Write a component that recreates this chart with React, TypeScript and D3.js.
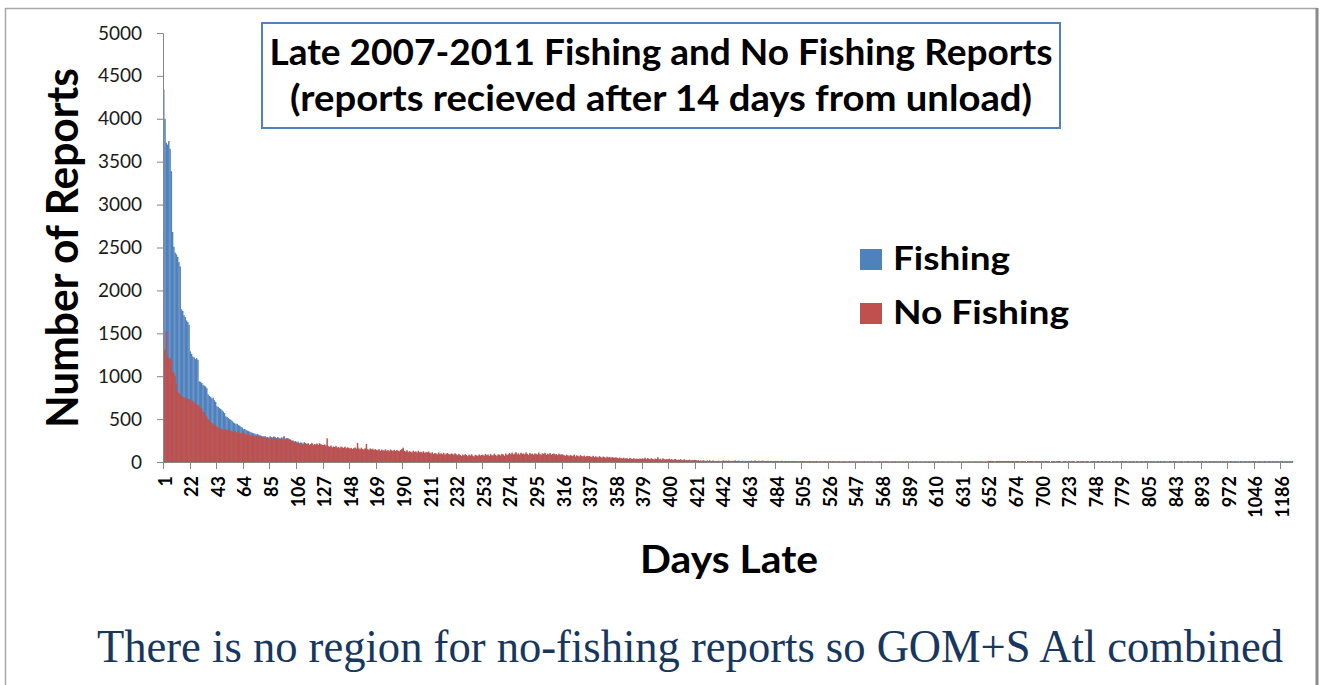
import React, { useRef, useEffect } from "react";
import * as d3 from "d3";

const WIDTH = 1324;
const HEIGHT = 685;

// days 1..651 run one after the other, later on only the days that had reports show up
const denseDays = d3.range(1, 652);
const tailDayRows = [
  [652, 653, 654, 655, 656, 657, 658, 659, 660, 661, 662, 663, 664, 665, 667, 668, 669, 670, 671, 672, 673],
  [674, 675, 676, 678, 679, 680, 681, 683, 684, 685, 686, 688, 689, 690, 691, 693, 694, 695, 696, 697, 698],
  [700, 701, 702, 703, 704, 705, 706, 708, 709, 710, 711, 712, 713, 714, 715, 717, 718, 719, 720, 721, 722],
  [723, 724, 725, 726, 728, 729, 730, 731, 733, 734, 735, 736, 738, 739, 740, 741, 743, 744, 745, 746, 747],
  [748, 749, 751, 752, 754, 755, 756, 758, 759, 761, 762, 764, 765, 767, 768, 770, 771, 773, 774, 776, 777],
  [779, 780, 781, 783, 784, 785, 786, 788, 789, 790, 791, 793, 794, 795, 796, 798, 799, 800, 801, 802, 803],
  [805, 806, 808, 810, 811, 813, 815, 817, 818, 820, 822, 824, 825, 827, 829, 831, 832, 834, 836, 838, 840],
  [843, 845, 847, 850, 852, 854, 857, 859, 861, 864, 866, 868, 871, 873, 875, 878, 880, 882, 885, 887, 890],
  [893, 897, 900, 904, 908, 911, 915, 919, 922, 926, 930, 934, 937, 941, 945, 949, 952, 956, 960, 964, 968],
  [972, 975, 979, 983, 986, 990, 993, 997, 1001, 1004, 1008, 1012, 1015, 1019, 1022, 1026, 1030, 1033, 1037, 1040, 1043],
  [1046, 1052, 1059, 1065, 1072, 1079, 1085, 1092, 1099, 1105, 1112, 1119, 1125, 1132, 1139, 1145, 1152, 1159, 1165, 1172, 1179],
  [1186, 1194, 1210, 1232, 1251, 1274, 1298, 1326, 1361, 1402],
];
const days = [...denseDays, ...tailDayRows.flat()];

const tickLabels = [
  "1", "22", "43", "64", "85", "106", "127", "148", "169", "190", "211", "232", "253", "274", "295",
  "316", "337", "358", "379", "400", "421", "442", "463", "484", "505", "526", "547", "568", "589",
  "610", "631", "652", "674", "700", "723", "748", "779", "805", "843", "893", "972", "1046", "1186",
];

const yTicks = [0, 500, 1000, 1500, 2000, 2500, 3000, 3500, 4000, 4500, 5000];

// one row per labelled stretch of 21 bars
const fishingRows = [
  [4340, 4000, 3720, 3700, 3740, 3650, 3390, 2680, 2510, 2440, 2420, 2390, 2330, 2280, 1780, 1760, 1710, 1690, 1650, 1630, 1600],
  [1290, 1260, 1230, 1220, 1200, 1210, 1190, 940, 935, 920, 900, 890, 880, 860, 790, 770, 760, 740, 750, 720, 700],
  [650, 642, 628, 618, 602, 588, 570, 532, 525, 512, 500, 492, 478, 462, 452, 440, 446, 430, 422, 410, 402],
  [382, 386, 372, 366, 360, 352, 346, 340, 334, 330, 320, 326, 316, 310, 306, 300, 296, 302, 290, 286, 282],
  [300, 290, 285, 298, 290, 280, 292, 282, 275, 288, 276, 296, 272, 280, 278, 268, 255, 245, 252, 238, 245],
  [232, 238, 220, 228, 225, 212, 230, 218, 210, 215, 198, 205, 215, 190, 205, 198, 210, 192, 212, 200, 195],
  [185, 195, 180, 200, 175, 170, 182, 160, 172, 168, 175, 158, 165, 150, 168, 162, 155, 166, 150, 160, 158],
  [150, 155, 142, 150, 160, 148, 170, 150, 140, 155, 145, 138, 150, 160, 140, 135, 148, 140, 145, 132, 140],
  [132, 128, 140, 120, 135, 130, 125, 138, 122, 132, 118, 136, 128, 120, 132, 120, 130, 124, 118, 130, 138],
  [150, 120, 112, 126, 105, 118, 110, 102, 120, 108, 115, 98, 118, 105, 110, 100, 115, 96, 108, 102, 110],
  [100, 88, 104, 84, 95, 90, 80, 100, 86, 92, 82, 96, 78, 88, 94, 84, 80, 90, 86, 76, 92],
  [80, 70, 85, 74, 62, 78, 68, 82, 72, 60, 76, 66, 80, 64, 58, 74, 70, 62, 78, 68, 72],
  [75, 64, 84, 70, 78, 62, 82, 72, 66, 86, 72, 62, 80, 75, 68, 84, 78, 64, 88, 72, 80],
  [92, 80, 96, 78, 86, 100, 80, 90, 75, 94, 84, 88, 78, 98, 85, 74, 92, 82, 86, 76, 88],
  [85, 78, 96, 82, 75, 90, 82, 94, 72, 86, 80, 92, 76, 84, 88, 78, 80, 70, 86, 75, 80],
  [78, 70, 64, 75, 68, 60, 72, 66, 62, 76, 56, 68, 64, 54, 70, 62, 58, 66, 52, 64, 60],
  [62, 54, 50, 64, 48, 58, 52, 45, 60, 50, 44, 56, 48, 42, 54, 46, 52, 40, 50, 45, 44],
  [48, 42, 36, 45, 40, 34, 44, 32, 40, 36, 30, 42, 34, 30, 38, 28, 35, 32, 28, 36, 30],
  [36, 30, 42, 28, 38, 32, 26, 38, 30, 24, 34, 28, 45, 26, 32, 22, 36, 28, 24, 30, 26],
  [32, 24, 28, 20, 26, 30, 18, 24, 21, 27, 17, 22, 25, 15, 20, 18, 24, 14, 18, 16, 21],
  [18, 13, 16, 11, 15, 10, 16, 12, 9, 14, 10, 15, 8, 12, 13, 7, 10, 9, 12, 6, 10],
  [12, 14, 10, 13, 9, 14, 11, 9, 12, 10, 15, 9, 11, 13, 8, 10, 12, 8, 11, 9, 10],
  [11, 9, 13, 8, 10, 14, 7, 10, 12, 8, 10, 13, 7, 10, 9, 11, 6, 10, 10, 7, 9],
  [10, 8, 11, 6, 9, 11, 6, 8, 10, 6, 9, 8, 5, 10, 6, 8, 9, 5, 8, 6, 9],
  [8, 6, 9, 5, 7, 6, 10, 5, 6, 8, 5, 9, 6, 4, 7, 6, 5, 7, 9, 4, 6],
  [6, 7, 5, 6, 8, 4, 6, 5, 7, 5, 4, 6, 7, 5, 5, 4, 7, 5, 6, 5, 4],
  [6, 5, 7, 4, 6, 5, 6, 7, 4, 5, 6, 4, 7, 5, 6, 4, 5, 6, 4, 7, 5],
  [5, 6, 4, 7, 5, 6, 4, 5, 6, 4, 7, 5, 4, 6, 5, 4, 6, 5, 4, 6, 5],
  [6, 5, 4, 6, 5, 4, 7, 5, 4, 6, 5, 4, 5, 6, 4, 5, 6, 4, 5, 4, 6],
  [5, 4, 6, 5, 4, 5, 6, 4, 5, 4, 6, 5, 4, 6, 5, 4, 5, 4, 6, 5, 4],
  [5, 6, 4, 5, 4, 6, 5, 4, 5, 4, 6, 5, 4, 5, 4, 6, 5, 4, 5, 4, 5],
  [10, 8, 11, 12, 9, 6, 8, 10, 9, 11, 7, 9, 12, 6, 10, 8, 11, 8, 10, 9, 7],
  [8, 10, 10, 8, 6, 9, 8, 10, 8, 0, 10, 8, 9, 8, 9, 7, 8, 10, 9, 8, 6],
  [8, 10, 8, 9, 8, 9, 8, 0, 10, 9, 8, 7, 9, 8, 10, 6, 0, 8, 9, 8, 6],
  [10, 8, 7, 9, 9, 6, 0, 8, 10, 8, 7, 9, 10, 6, 8, 8, 9, 0, 8, 10, 8],
  [8, 8, 9, 8, 6, 10, 9, 8, 6, 8, 9, 7, 8, 0, 8, 9, 7, 8, 9, 6, 8],
  [9, 8, 8, 9, 8, 7, 6, 9, 8, 8, 9, 6, 8, 9, 7, 6, 8, 9, 6, 8, 9],
  [8, 9, 6, 8, 9, 7, 8, 6, 9, 8, 7, 9, 6, 8, 9, 6, 8, 7, 9, 8, 6],
  [9, 8, 7, 6, 9, 8, 9, 7, 6, 9, 8, 7, 9, 6, 8, 9, 6, 8, 7, 9, 8],
  [8, 9, 7, 6, 9, 8, 6, 8, 9, 6, 8, 9, 6, 8, 7, 9, 6, 8, 9, 7, 6],
  [9, 8, 6, 8, 9, 6, 8, 7, 9, 6, 8, 9, 7, 6, 8, 9, 6, 8, 9, 6, 8],
  [8, 9, 7, 6, 8, 9, 6, 8, 7, 9, 6, 8, 7, 9, 6, 8, 9, 6, 8, 9, 6],
  [8, 9, 7, 6, 8, 9, 6, 8, 9, 10],
];

const noFishingRows = [
  [1300, 1310, 1520, 1225, 1205, 1212, 1190, 1055, 1035, 1000, 905, 818, 805, 782, 772, 758, 752, 740, 744, 728, 735],
  [725, 700, 712, 688, 690, 665, 668, 655, 632, 618, 585, 575, 538, 528, 495, 488, 462, 455, 436, 440, 418],
  [412, 398, 396, 388, 386, 376, 378, 380, 372, 365, 378, 360, 355, 350, 362, 348, 342, 355, 338, 332, 345],
  [330, 340, 325, 318, 335, 312, 308, 318, 302, 298, 310, 295, 290, 305, 288, 282, 296, 280, 276, 290, 272],
  [284, 270, 266, 292, 275, 262, 280, 268, 258, 276, 262, 300, 255, 268, 272, 258, 262, 250, 240, 228, 235],
  [215, 222, 205, 218, 210, 198, 225, 212, 205, 218, 200, 208, 222, 195, 210, 204, 215, 198, 220, 207, 200],
  [198, 205, 190, 276, 185, 178, 192, 170, 182, 175, 188, 168, 176, 162, 180, 171, 165, 178, 160, 172, 166],
  [158, 165, 150, 162, 170, 155, 221, 160, 148, 168, 152, 145, 160, 210, 150, 142, 158, 148, 155, 140, 150],
  [142, 135, 150, 128, 145, 138, 132, 148, 130, 140, 125, 146, 136, 130, 142, 128, 138, 132, 126, 140, 150],
  [167, 130, 122, 138, 115, 128, 120, 112, 132, 118, 125, 108, 130, 115, 120, 110, 126, 105, 118, 112, 122],
  [110, 98, 115, 92, 105, 100, 88, 112, 95, 102, 90, 108, 85, 98, 105, 92, 88, 100, 95, 84, 102],
  [90, 78, 95, 82, 70, 88, 75, 92, 80, 68, 86, 74, 90, 72, 65, 84, 78, 70, 88, 76, 82],
  [85, 72, 95, 78, 88, 70, 92, 80, 75, 98, 82, 70, 90, 85, 76, 95, 88, 72, 100, 82, 90],
  [105, 92, 110, 88, 98, 115, 90, 102, 85, 108, 95, 100, 88, 112, 96, 84, 105, 92, 98, 86, 100],
  [96, 88, 110, 92, 85, 102, 94, 108, 82, 98, 90, 104, 86, 95, 100, 88, 92, 80, 98, 85, 90],
  [88, 80, 72, 85, 78, 68, 82, 75, 70, 86, 65, 78, 72, 62, 80, 70, 66, 75, 60, 72, 68],
  [70, 62, 58, 72, 55, 66, 60, 52, 68, 58, 50, 64, 56, 48, 62, 54, 60, 46, 58, 52, 50],
  [55, 48, 42, 52, 45, 40, 50, 38, 46, 42, 35, 48, 40, 36, 44, 32, 40, 38, 34, 42, 36],
  [42, 36, 50, 32, 45, 38, 30, 44, 35, 28, 40, 34, 55, 30, 38, 26, 42, 33, 28, 36, 30],
  [38, 28, 34, 24, 30, 36, 22, 28, 25, 32, 20, 26, 30, 18, 24, 22, 28, 17, 22, 20, 25],
  [22, 16, 20, 14, 18, 12, 20, 15, 11, 17, 13, 19, 10, 14, 16, 9, 13, 11, 15, 8, 12],
  [14, 17, 12, 15, 11, 16, 13, 10, 14, 12, 18, 11, 13, 15, 10, 12, 14, 9, 13, 11, 12],
  [14, 11, 16, 10, 13, 17, 9, 12, 15, 10, 13, 16, 9, 12, 11, 14, 8, 12, 13, 9, 11],
  [12, 10, 13, 8, 11, 14, 7, 10, 12, 8, 11, 10, 7, 12, 8, 10, 11, 6, 10, 8, 11],
  [10, 8, 11, 6, 9, 8, 12, 6, 8, 10, 6, 11, 8, 6, 9, 8, 6, 9, 11, 6, 8],
  [8, 9, 6, 8, 10, 5, 8, 6, 9, 7, 5, 8, 9, 6, 7, 5, 9, 6, 8, 7, 6],
  [7, 6, 9, 5, 7, 6, 8, 9, 5, 6, 8, 5, 9, 6, 7, 5, 6, 8, 5, 9, 6],
  [6, 8, 5, 9, 6, 7, 5, 6, 8, 5, 9, 6, 5, 7, 6, 5, 8, 6, 5, 7, 6],
  [7, 6, 5, 8, 6, 5, 9, 6, 5, 7, 6, 5, 6, 8, 5, 6, 7, 5, 6, 5, 7],
  [6, 5, 7, 6, 5, 6, 8, 5, 6, 5, 7, 6, 5, 7, 6, 5, 6, 5, 7, 6, 5],
  [6, 7, 5, 6, 5, 7, 6, 5, 6, 5, 7, 6, 5, 6, 5, 7, 6, 5, 6, 5, 6],
  [12, 10, 13, 9, 11, 0, 10, 12, 8, 13, 9, 11, 10, 8, 12, 9, 13, 10, 8, 11, 9],
  [10, 12, 8, 10, 0, 11, 9, 8, 10, 0, 12, 9, 8, 10, 11, 0, 9, 8, 12, 10, 8],
  [10, 8, 0, 12, 9, 8, 10, 0, 8, 11, 9, 0, 8, 10, 12, 8, 0, 9, 8, 10, 0],
  [8, 10, 0, 8, 11, 8, 0, 10, 8, 0, 9, 8, 11, 0, 8, 10, 8, 0, 9, 8, 10],
  [9, 0, 8, 10, 0, 8, 11, 0, 8, 9, 0, 8, 10, 0, 9, 8, 0, 10, 8, 0, 9],
  [8, 10, 0, 8, 9, 0, 8, 8, 0, 10, 8, 0, 9, 8, 0, 8, 10, 0, 8, 9, 8],
  [9, 0, 8, 10, 0, 8, 0, 9, 8, 0, 10, 0, 8, 9, 0, 8, 0, 10, 8, 0, 9],
  [8, 9, 0, 8, 0, 10, 8, 0, 9, 0, 8, 9, 0, 8, 0, 9, 8, 0, 10, 8, 0],
  [9, 8, 0, 9, 8, 0, 8, 9, 0, 8, 10, 0, 8, 0, 9, 8, 0, 9, 8, 0, 8],
  [8, 0, 9, 8, 0, 8, 9, 0, 8, 0, 9, 8, 0, 8, 9, 0, 8, 9, 0, 8, 9],
  [9, 8, 0, 8, 9, 0, 8, 0, 9, 8, 0, 8, 9, 0, 8, 8, 0, 9, 8, 0, 8],
  [9, 8, 0, 8, 9, 0, 8, 8, 0, 9],
];

const BLUE = "#4F81BD";
const RED = "#C0504D";
const AXIS_GREY = "#868686";
const FONT = "Lato, 'Open Sans', sans-serif";

const Chart = () => {
  const svgRef = useRef<SVGSVGElement>(null);

  useEffect(() => {
    const svg = d3.select(svgRef.current);
    svg.selectAll("*").remove();

    const fishing = fishingRows.flat();
    const noFishing = noFishingRows.flat();
    const rows = days.map((day, i) => ({
      day: String(day),
      fishing: fishing[i] ?? 0,
      noFishing: noFishing[i] ?? 0,
    }));

    const x = d3
      .scaleBand<string>()
      .domain(rows.map((r) => r.day))
      .range([163, 1293])
      .padding(0);
    const y = d3.scaleLinear().domain([0, 5000]).range([462, 33]);
    const bw = x.bandwidth();

    // frame round the slide
    const frame = svg.append("g").attr("fill", "none");
    frame.append("line").attr("x1", 5).attr("x2", 1317).attr("y1", 8.5).attr("y2", 8.5).attr("stroke", "#a6a6a6").attr("stroke-width", 1.5);
    frame.append("line").attr("x1", 5.5).attr("x2", 5.5).attr("y1", 8).attr("y2", HEIGHT).attr("stroke", "#a6a6a6").attr("stroke-width", 1.5);
    frame.append("line").attr("x1", 1317).attr("x2", 1317).attr("y1", 8).attr("y2", HEIGHT).attr("stroke", "#8a8a8a").attr("stroke-width", 3);

    // blue bars behind, red bars in front (100% overlap)
    svg
      .append("g")
      .selectAll("rect")
      .data(rows)
      .join("rect")
      .attr("x", (d) => x(d.day)!)
      .attr("width", bw + 0.2)
      .attr("y", (d) => y(d.fishing))
      .attr("height", (d) => y(0) - y(d.fishing))
      .attr("fill", BLUE);

    svg
      .append("g")
      .selectAll("rect")
      .data(rows)
      .join("rect")
      .attr("x", (d) => x(d.day)!)
      .attr("width", bw + 0.2)
      .attr("y", (d) => y(d.noFishing))
      .attr("height", (d) => y(0) - y(d.noFishing))
      .attr("fill", RED);

    // y axis, plain numbers without thousands comma
    const yAxis = d3
      .axisLeft(y)
      .tickValues(yTicks)
      .tickFormat(d3.format("d"))
      .tickSize(6)
      .tickSizeOuter(0)
      .tickPadding(15);
    const gy = svg.append("g").attr("transform", "translate(163,0)").call(yAxis);
    gy.select(".domain").attr("stroke", AXIS_GREY);
    gy.selectAll(".tick line").attr("stroke", AXIS_GREY);
    gy.selectAll(".tick text")
      .attr("font-family", FONT)
      .attr("font-size", 19)
      .attr("fill", "#1a1a1a");

    // x axis: ticks sit on the left edge of every 21st bar
    const gx = svg.append("g");
    gx.append("line")
      .attr("x1", 163)
      .attr("x2", 1293)
      .attr("y1", 462.5)
      .attr("y2", 462.5)
      .attr("stroke", AXIS_GREY);
    gx.selectAll(".xtick")
      .data(tickLabels)
      .join("line")
      .attr("class", "xtick")
      .attr("x1", (d) => Math.round(x(d)!) + 0.5)
      .attr("x2", (d) => Math.round(x(d)!) + 0.5)
      .attr("y1", 462)
      .attr("y2", 469)
      .attr("stroke", AXIS_GREY);
    gx.selectAll(".xlabel")
      .data(tickLabels)
      .join("text")
      .attr("class", "xlabel")
      .attr("transform", (d) => `translate(${x(d)! + bw / 2 + 8},476) rotate(-90)`)
      .attr("text-anchor", "end")
      .attr("font-family", FONT)
      .attr("font-weight", 700)
      .attr("font-size", 18)
      .attr("fill", "#000")
      .text((d) => d);

    // axis titles
    svg.append("text")
      .attr("transform", "translate(78,248) rotate(-90)")
      .attr("text-anchor", "middle")
      .attr("font-family", FONT)
      .attr("font-weight", 700)
      .attr("font-size", 43)
      .attr("textLength", 360)
      .attr("lengthAdjust", "spacingAndGlyphs")
      .text("Number of Reports");

    svg.append("text")
      .attr("x", 729)
      .attr("y", 573)
      .attr("text-anchor", "middle")
      .attr("font-family", FONT)
      .attr("font-weight", 700)
      .attr("font-size", 39)
      .attr("textLength", 178)
      .attr("lengthAdjust", "spacingAndGlyphs")
      .text("Days Late");

    // title box
    svg.append("rect")
      .attr("x", 262)
      .attr("y", 23)
      .attr("width", 798)
      .attr("height", 105)
      .attr("fill", "#fff")
      .attr("stroke", BLUE)
      .attr("stroke-width", 2);
    const titleLines = [
      { text: "Late 2007-2011 Fishing and No Fishing Reports", y: 65, len: 783 },
      { text: "(reports recieved after 14 days from unload)", y: 111, len: 742 },
    ];
    svg.selectAll(".title")
      .data(titleLines)
      .join("text")
      .attr("class", "title")
      .attr("x", 661)
      .attr("y", (d) => d.y)
      .attr("text-anchor", "middle")
      .attr("font-family", FONT)
      .attr("font-weight", 700)
      .attr("font-size", 37)
      .attr("textLength", (d) => d.len)
      .attr("lengthAdjust", "spacingAndGlyphs")
      .text((d) => d.text);

    // legend
    const legend = [
      { name: "Fishing", color: BLUE, y: 249, len: 117 },
      { name: "No Fishing", color: RED, y: 303, len: 176 },
    ];
    const lg = svg.selectAll(".legend").data(legend).join("g").attr("class", "legend");
    lg.append("rect")
      .attr("x", 860)
      .attr("y", (d) => d.y)
      .attr("width", 22)
      .attr("height", 21)
      .attr("fill", (d) => d.color);
    lg.append("text")
      .attr("x", 893)
      .attr("y", (d) => d.y + 21)
      .attr("font-family", FONT)
      .attr("font-weight", 700)
      .attr("font-size", 32)
      .attr("textLength", (d) => d.len)
      .attr("lengthAdjust", "spacingAndGlyphs")
      .text((d) => d.name);

    // note under the chart, glyphs drawn a little taller than wide like the slide
    svg.append("text")
      .attr("transform", "translate(97,662) scale(1,1.17)")
      .attr("font-family", "'Liberation Serif', 'Times New Roman', serif")
      .attr("font-size", 40)
      .attr("fill", "#17375E")
      .attr("textLength", 1186)
      .attr("lengthAdjust", "spacingAndGlyphs")
      .text("There is no region for no-fishing reports so GOM+S Atl combined");
  }, []);

  return (
    <svg
      ref={svgRef}
      width={WIDTH}
      height={HEIGHT}
      style={{ position: "absolute", left: 0, top: 0, background: "#fff" }}
    />
  );
};

export default function App() {
  return <Chart />;
}
